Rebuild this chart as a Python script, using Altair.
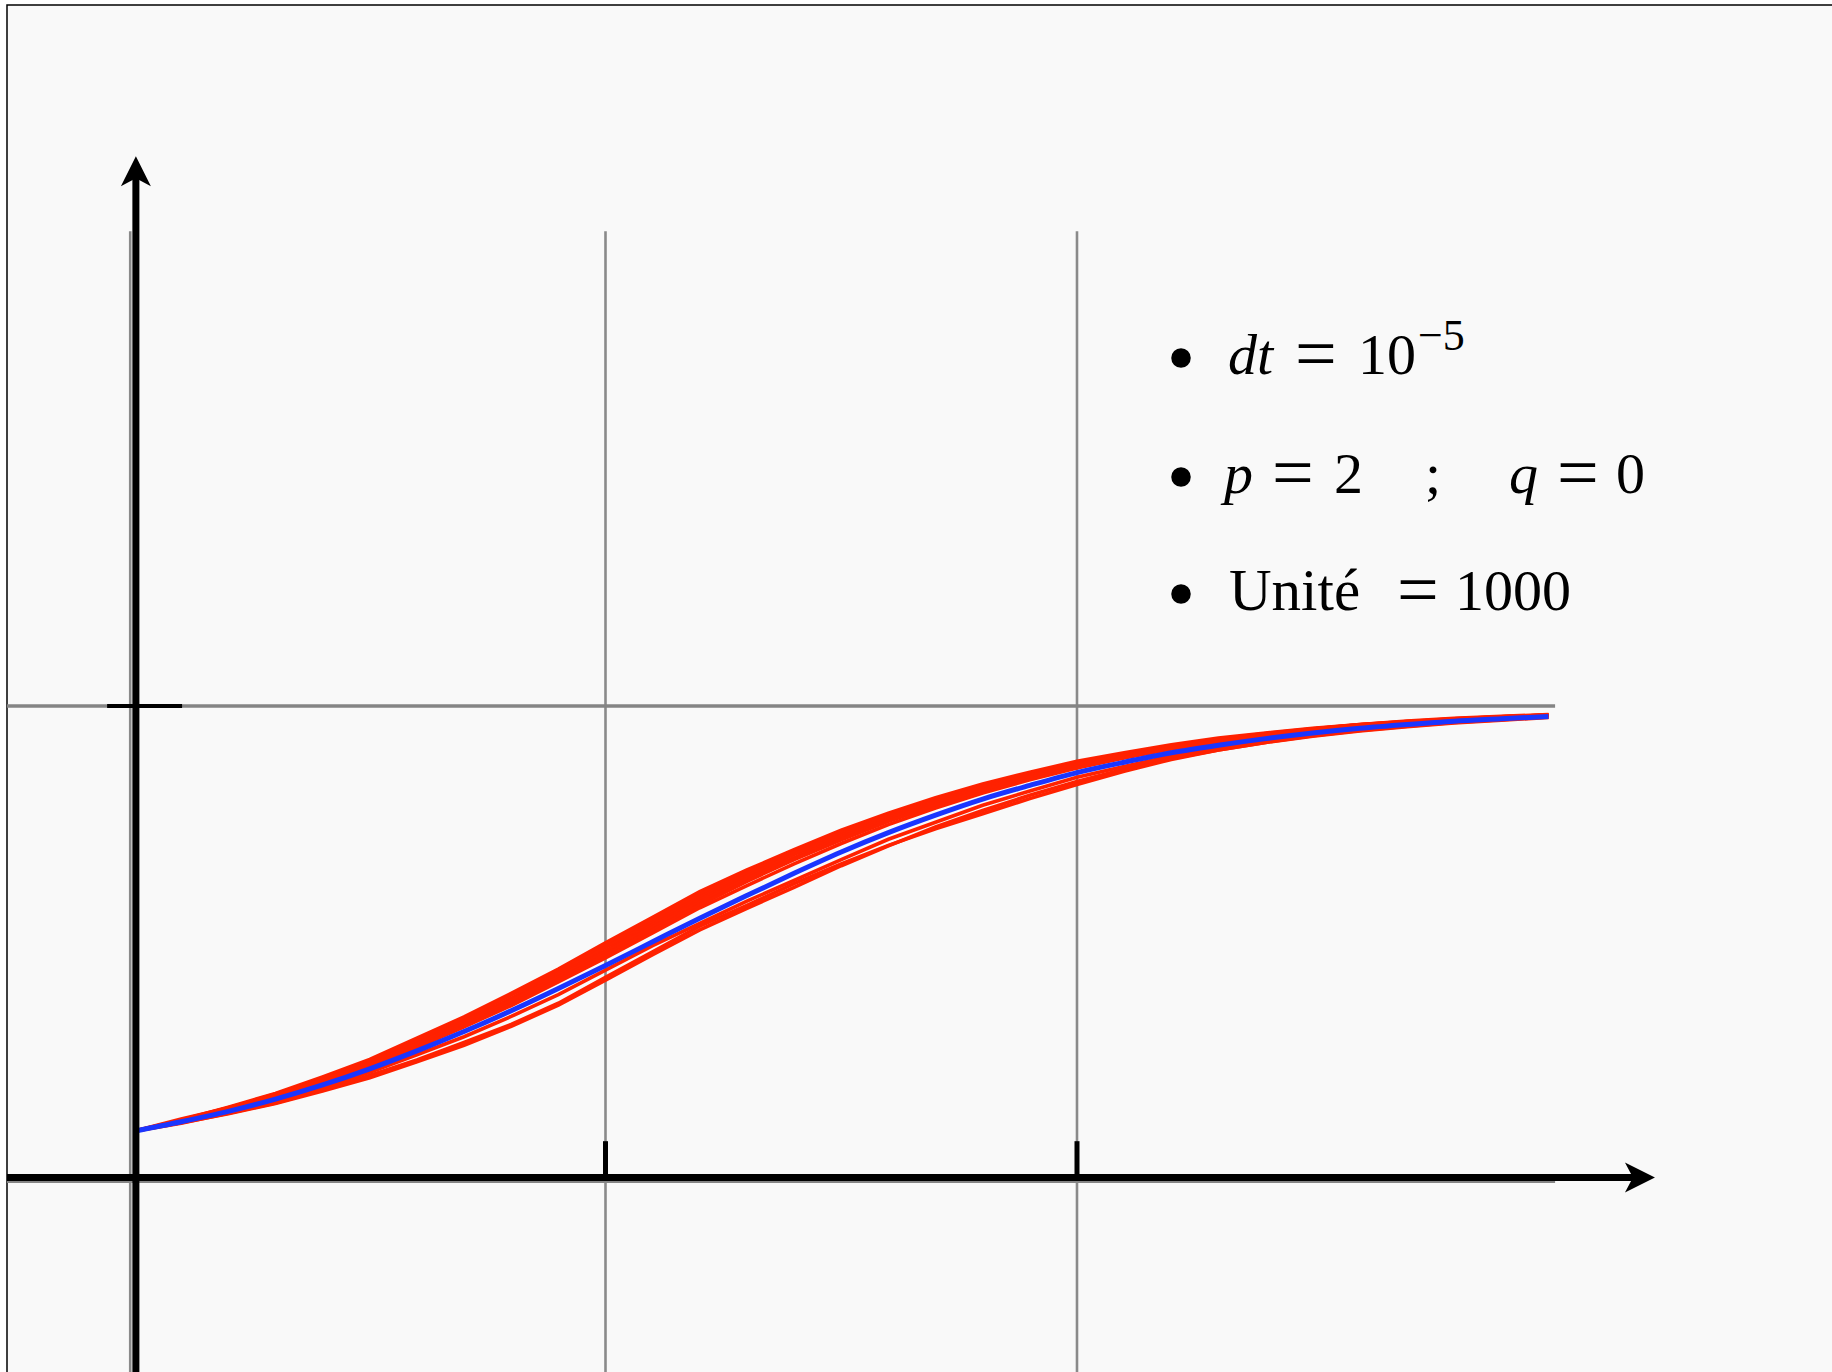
import altair as alt
import pandas as pd

# Time grid (unit = 1 on the x axis)
T = [0.0, 0.1, 0.2, 0.3, 0.4, 0.5, 0.6, 0.7, 0.8, 0.9,
     1.0, 1.1, 1.2, 1.3, 1.4, 1.5, 1.6, 1.7, 1.8, 1.9,
     2.0, 2.1, 2.2, 2.3, 2.4, 2.5, 2.6, 2.7, 2.8, 2.9, 3.0]

# Deterministic (mean) trajectory, drawn in blue
MEAN = [0.100, 0.120, 0.142, 0.168, 0.198, 0.232, 0.270, 0.311, 0.355, 0.402,
        0.451, 0.501, 0.551, 0.599, 0.646, 0.691, 0.732, 0.769, 0.803, 0.832,
        0.859, 0.881, 0.901, 0.917, 0.931, 0.943, 0.953, 0.961, 0.968, 0.973, 0.978]

# Simulated trajectories, drawn in red
RUN_1 = [0.100, 0.124, 0.151, 0.180, 0.215, 0.252, 0.297, 0.342, 0.392, 0.443,
         0.499, 0.553, 0.607, 0.653, 0.696, 0.737, 0.773, 0.806, 0.835, 0.860,
         0.883, 0.901, 0.918, 0.932, 0.943, 0.953, 0.961, 0.968, 0.974, 0.978, 0.982]
RUN_2 = [0.100, 0.126, 0.149, 0.179, 0.211, 0.250, 0.291, 0.339, 0.388, 0.439,
         0.494, 0.548, 0.601, 0.648, 0.692, 0.733, 0.770, 0.802, 0.832, 0.857,
         0.880, 0.899, 0.916, 0.930, 0.942, 0.952, 0.961, 0.967, 0.973, 0.977, 0.981]
RUN_3 = [0.100, 0.123, 0.150, 0.177, 0.210, 0.246, 0.289, 0.333, 0.381, 0.435,
         0.489, 0.541, 0.595, 0.645, 0.690, 0.730, 0.768, 0.799, 0.830, 0.854,
         0.878, 0.898, 0.915, 0.929, 0.941, 0.951, 0.960, 0.967, 0.972, 0.977, 0.981]
RUN_4 = [0.100, 0.122, 0.146, 0.176, 0.207, 0.245, 0.285, 0.332, 0.378, 0.431,
         0.482, 0.537, 0.589, 0.640, 0.686, 0.726, 0.764, 0.797, 0.828, 0.853,
         0.877, 0.896, 0.914, 0.928, 0.941, 0.951, 0.960, 0.966, 0.973, 0.977, 0.981]
RUN_5 = [0.100, 0.123, 0.147, 0.174, 0.208, 0.243, 0.285, 0.328, 0.376, 0.426,
         0.480, 0.532, 0.585, 0.635, 0.679, 0.722, 0.760, 0.794, 0.825, 0.851,
         0.875, 0.895, 0.913, 0.927, 0.940, 0.950, 0.959, 0.966, 0.972, 0.976, 0.981]
RUN_6 = [0.100, 0.121, 0.145, 0.172, 0.205, 0.241, 0.280, 0.324, 0.370, 0.421,
         0.474, 0.526, 0.579, 0.629, 0.675, 0.717, 0.756, 0.790, 0.822, 0.848,
         0.872, 0.893, 0.911, 0.926, 0.939, 0.950, 0.959, 0.966, 0.972, 0.976, 0.980]
RUN_7 = [0.100, 0.122, 0.143, 0.172, 0.202, 0.238, 0.277, 0.321, 0.366, 0.416,
         0.467, 0.520, 0.573, 0.620, 0.666, 0.709, 0.749, 0.784, 0.816, 0.844,
         0.869, 0.890, 0.909, 0.924, 0.937, 0.948, 0.958, 0.965, 0.971, 0.975, 0.980]
RUN_8 = [0.100, 0.118, 0.137, 0.159, 0.185, 0.213, 0.247, 0.282, 0.322, 0.367,
         0.420, 0.474, 0.526, 0.572, 0.616, 0.662, 0.704, 0.744, 0.779, 0.811,
         0.840, 0.866, 0.889, 0.907, 0.923, 0.936, 0.947, 0.956, 0.964, 0.970, 0.976]
RUN_9 = [0.100, 0.117, 0.138, 0.160, 0.188, 0.218, 0.251, 0.288, 0.326, 0.371,
         0.426, 0.480, 0.534, 0.578, 0.624, 0.666, 0.705, 0.740, 0.772, 0.804,
         0.834, 0.862, 0.887, 0.907, 0.923, 0.937, 0.948, 0.957, 0.965, 0.971, 0.977]
RUN_10 = [0.100, 0.119, 0.139, 0.165, 0.193, 0.225, 0.262, 0.300, 0.343, 0.389,
          0.441, 0.493, 0.540, 0.587, 0.631, 0.675, 0.718, 0.754, 0.790, 0.820,
          0.849, 0.872, 0.894, 0.911, 0.926, 0.939, 0.950, 0.959, 0.966, 0.972, 0.978]
RUNS = [RUN_1, RUN_2, RUN_3, RUN_4, RUN_5, RUN_6, RUN_7, RUN_8, RUN_9, RUN_10]

# Grid and tick positions
GRID_X = [-0.008, 1.0, 2.0]
GRID_Y = [-0.006, 1.0]
TICKS_X = [1.0, 2.0]

W, H = 1832, 1372
RED = "#ff2200"
BLUE = "#1a35ff"
FONT = "Liberation Serif"

xs = alt.Scale(domain=[-0.2842, 3.6013], nice=False, zero=False)
ys = alt.Scale(domain=[-0.4095, 2.4942], nice=False, zero=False)


def one_row(**kw):
    return alt.Data(values=[kw])


# paper frame
frame = alt.Chart(one_row(a=0)).mark_rect(
    fill="#f9f9f9", stroke="black", strokeWidth=1.5
).encode(x=alt.value(7), y=alt.value(5), x2=alt.value(W + 20), y2=alt.value(H + 20))

# grid
vgrid = alt.Chart(pd.DataFrame({"gx": GRID_X, "lo": -0.5, "hi": 2.005})).mark_rule(
    color="#8a8a8a", strokeWidth=2.6
).encode(
    x=alt.X("gx:Q", scale=xs, axis=None),
    y=alt.Y("lo:Q", scale=ys, axis=None),
    y2="hi:Q",
)
hgrid = alt.Chart(pd.DataFrame({"gy": GRID_Y, "lo": -0.2694, "hi": 3.014})).mark_rule(
    color="#858585", strokeWidth=3.4
).encode(
    y=alt.Y("gy:Q", scale=ys, axis=None),
    x=alt.X("lo:Q", scale=xs, axis=None),
    x2="hi:Q",
)

# simulated runs
rows = []
for k, run in enumerate(RUNS):
    for t, v in zip(T, run):
        rows.append({"t": t, "v": v, "run": f"run {k + 1}"})
runs_df = pd.DataFrame(rows)
red = alt.Chart(runs_df).mark_line(color=RED, strokeWidth=3.6, interpolate="linear").encode(
    x=alt.X("t:Q", scale=xs, axis=None),
    y=alt.Y("v:Q", scale=ys, axis=None),
    detail="run:N",
)

blue = alt.Chart(pd.DataFrame({"t": T, "v": MEAN})).mark_line(
    color=BLUE, strokeWidth=5, interpolate="monotone"
).encode(
    x=alt.X("t:Q", scale=xs, axis=None),
    y=alt.Y("v:Q", scale=ys, axis=None),
)

# axes with arrows
yaxis = alt.Chart(one_row(x=0.004, lo=-0.5, hi=2.13)).mark_rule(
    color="black", strokeWidth=7
).encode(x=alt.X("x:Q", scale=xs, axis=None), y=alt.Y("lo:Q", scale=ys, axis=None), y2="hi:Q")
xaxis = alt.Chart(one_row(y=0.002, lo=-0.2694, hi=3.19)).mark_rule(
    color="black", strokeWidth=7
).encode(y=alt.Y("y:Q", scale=ys, axis=None), x=alt.X("lo:Q", scale=xs, axis=None), x2="hi:Q")

up_arrow = alt.Chart(one_row(x=0.004, y=2.132)).mark_point(
    shape="M0,-1L1,1L0,0.47L-1,1Z", filled=True, size=900, color="black", opacity=1
).encode(x=alt.X("x:Q", scale=xs, axis=None), y=alt.Y("y:Q", scale=ys, axis=None))
right_arrow = alt.Chart(one_row(x=3.194, y=0.002)).mark_point(
    shape="M1,0L-1,-1L-0.47,0L-1,1Z", filled=True, size=900, color="black", opacity=1
).encode(x=alt.X("x:Q", scale=xs, axis=None), y=alt.Y("y:Q", scale=ys, axis=None))

xticks = alt.Chart(pd.DataFrame({"x": TICKS_X, "lo": 0.0, "hi": 0.079})).mark_rule(
    color="black", strokeWidth=5
).encode(x=alt.X("x:Q", scale=xs, axis=None), y=alt.Y("lo:Q", scale=ys, axis=None), y2="hi:Q")
ytick = alt.Chart(one_row(y=1.0, lo=-0.057, hi=0.102)).mark_rule(
    color="black", strokeWidth=4
).encode(y=alt.Y("y:Q", scale=ys, axis=None), x=alt.X("lo:Q", scale=xs, axis=None), x2="hi:Q")

# annotation block
bullets = alt.Chart(pd.DataFrame({"bx": [1181, 1181, 1181], "by": [358, 477, 594]})).mark_point(
    shape="circle", filled=True, size=380, color="black", opacity=1
).encode(x=alt.X("bx:Q", scale=None), y=alt.Y("by:Q", scale=None))

# (x, baseline, text, style, size); the equals signs are set larger so their bars are wider
PIECES = [
    (1228, 374, "dt", "italic", 58),
    (1295, 378, "=", "normal", 74),
    (1358, 374, "10", "normal", 58),
    (1418, 350, "\u22125", "normal", 44),
    (1224, 493, "p", "italic", 58),
    (1272, 497, "=", "normal", 74),
    (1334, 493, "2", "normal", 58),
    (1425, 493, ";", "normal", 58),
    (1509, 493, "q", "italic", 58),
    (1557, 497, "=", "normal", 74),
    (1616, 493, "0", "normal", 58),
    (1229, 610, "Unit\u00e9", "normal", 59),
    (1397, 614, "=", "normal", 74),
    (1455, 610, "1000", "normal", 58),
]
texts = []
for px, py, s, style, size in PIECES:
    texts.append(
        alt.Chart(one_row(s=s)).mark_text(
            align="left", baseline="alphabetic", font=FONT, fontSize=size,
            fontStyle=style, color="black",
        ).encode(x=alt.value(px), y=alt.value(py), text="s:N")
    )

chart = alt.layer(
    frame, vgrid, hgrid, red, blue, yaxis, xaxis, up_arrow, right_arrow,
    xticks, ytick, bullets, *texts,
).properties(
    width=W, height=H, padding=0,
    autosize=alt.AutoSizeParams(type="none"),
    background="white",
).configure_view(stroke=None)

chart.save("out.html", embed_options={"renderer": "svg", "actions": False})
